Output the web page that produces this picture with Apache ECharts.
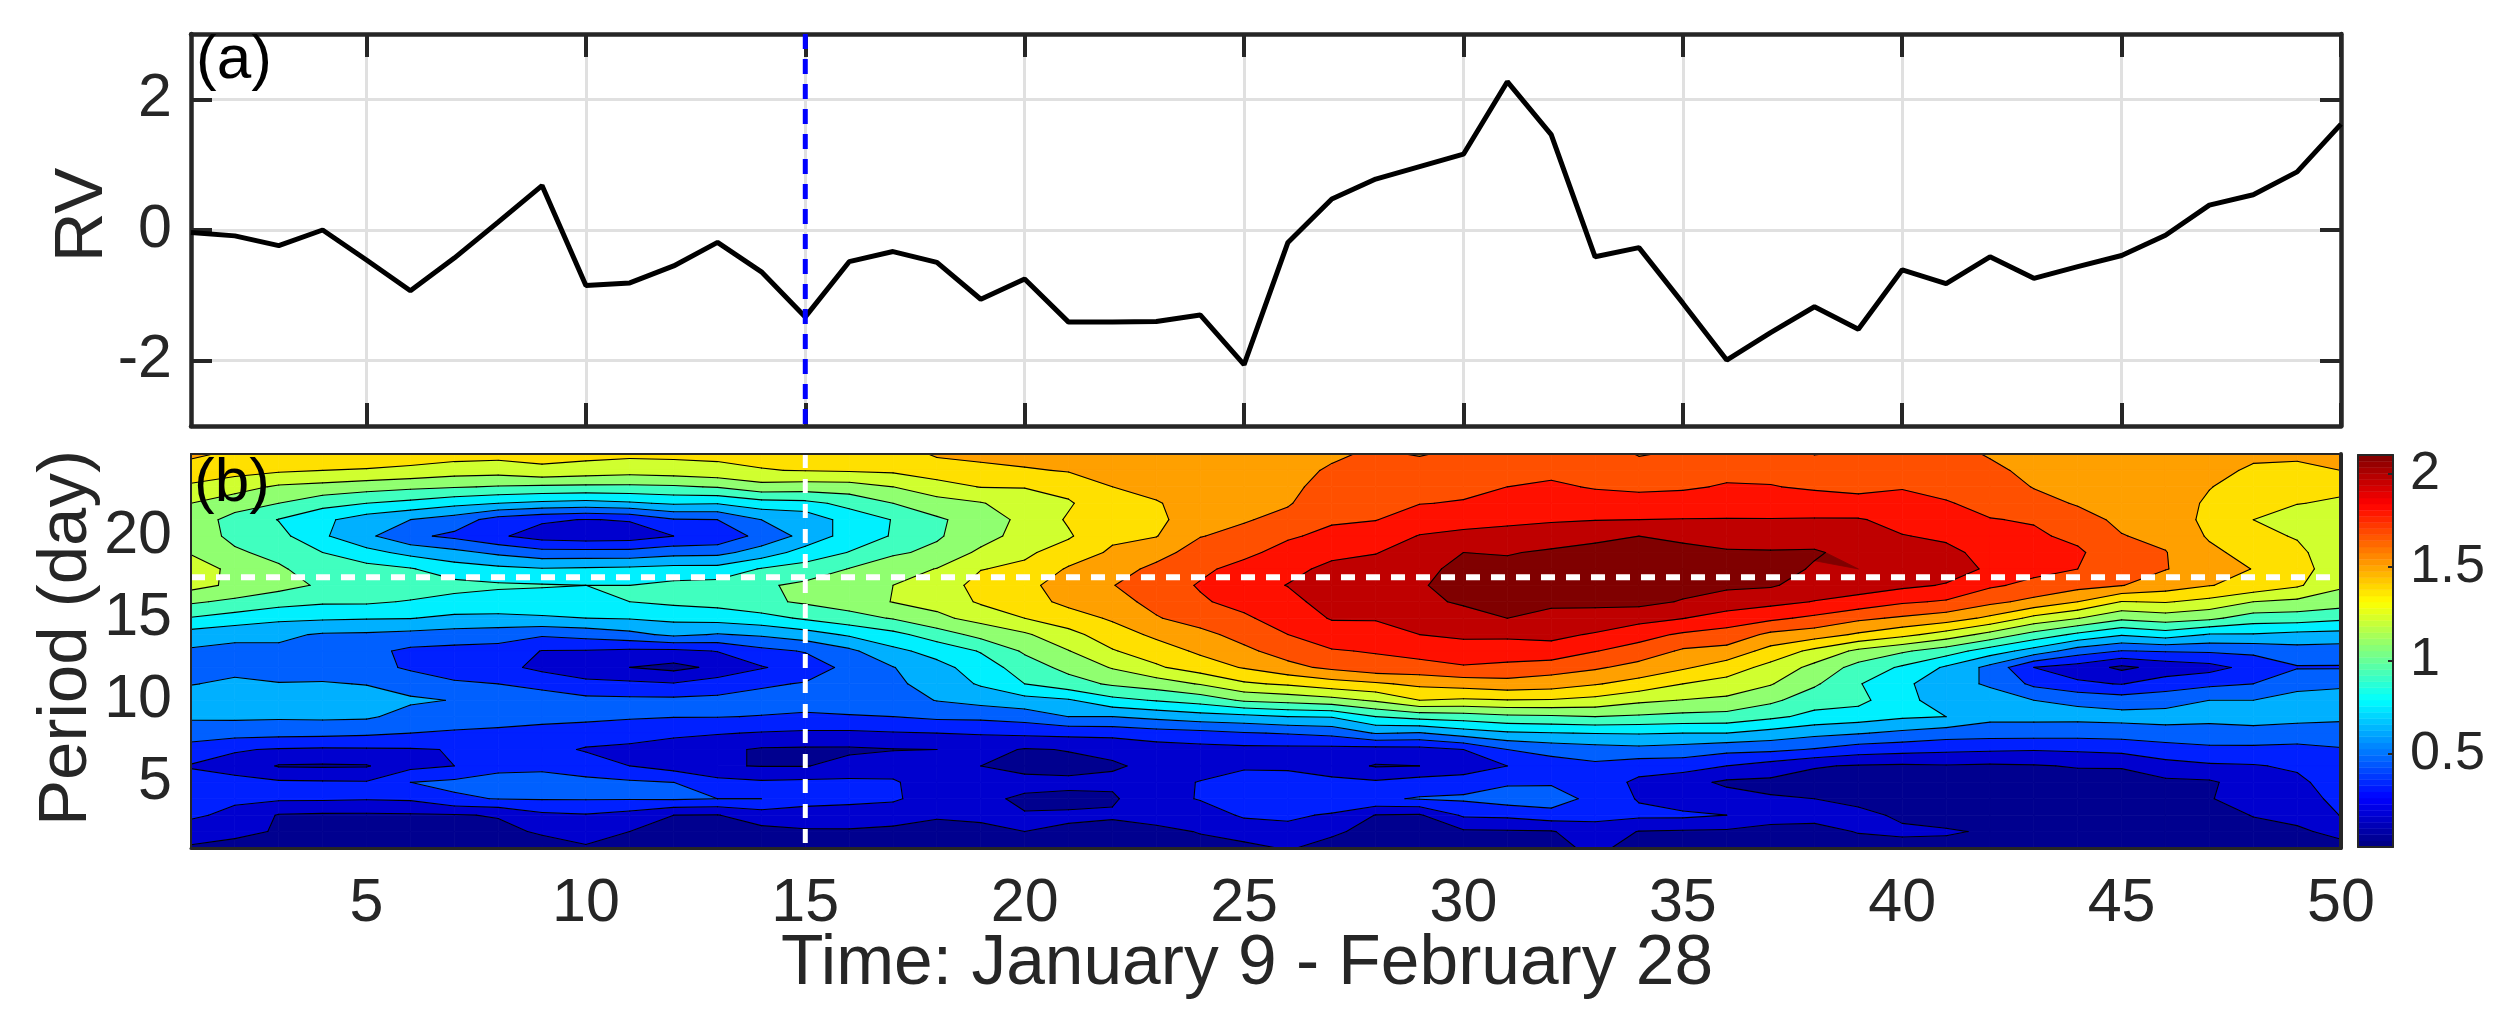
<!DOCTYPE html>
<html><head><meta charset="utf-8">
<style>html,body{margin:0;padding:0;background:#fff}#chart{width:2514px;height:1034px}</style>
<script src="https://cdn.jsdelivr.net/npm/echarts@6/dist/echarts.min.js"></script>
</head><body><div id="chart"></div>
<script>
const rvValues = [-0.04,-0.09,-0.24,0.0,-0.46,-0.93,-0.43,0.12,0.68,-0.85,-0.81,-0.55,-0.19,-0.64,-1.33,-0.485,-0.33,-0.495,-1.06,-0.75,-1.41,-1.41,-1.40,-1.30,-2.06,-0.19,0.475,0.78,0.97,1.16,2.27,1.46,-0.41,-0.27,-1.12,-1.99,-1.57,-1.175,-1.52,-0.61,-0.82,-0.41,-0.74,-0.56,-0.39,-0.08,0.38,0.54,0.89,1.62];
const days = rvValues.map((_, i) => i + 1);
const periods = [25,24,23,22,21,20,19,18,17,16,15,14,13,12,11,10,9,8,7,6,5,4,3,2,1];
const contourLevels = [0.14,0.28,0.42,0.56,0.70,0.84,0.98,1.12,1.26,1.40,1.54,1.68,1.82,1.96];
const bandColors = ['#00008F','#0000CF','#0020FF','#0060FF','#00B0FF','#00F0FF','#40FFBF','#90FF70','#D0FF2F','#FFE000','#FFA000','#FF5000','#FF1000','#BF0000','#800000'];
const dayTicks = [5,10,15,20,25,30,35,40,45,50];
const rvTicks = [-2,0,2];
const periodTicks = [5,10,15,20];
const colorbarTicks = [0.5,1,1.5,2];
const markedDay = 15;
const markedPeriod = 17.5;
// one row per day (1..50), each listing the period values 25 down to 1
const powerByDay = [
[1.43,1.33,1.24,1.12,1.06,1.06,1.11,1.18,1.17,1.00,.83,.64,.54,.50,.555,.62,.58,.49,.36,.27,.33,.34,.30,.22,.12],
[1.37,1.31,1.175,1.045,.93,.945,1.00,1.09,1.09,.95,.78,.60,.52,.53,.58,.63,.585,.475,.29,.24,.31,.30,.25,.17,.10],
[1.36,1.28,1.10,.98,.835,.885,.94,1.00,1.03,.895,.73,.59,.53,.51,.565,.63,.58,.465,.27,.13,.30,.30,.13,.13,.09],
[1.35,1.26,1.075,.89,.73,.72,.84,.905,.96,.86,.72,.545,.51,.50,.57,.635,.585,.46,.26,.125,.295,.30,.12,.09,.08],
[1.34,1.25,1.04,.84,.63,.59,.745,.89,.94,.86,.71,.54,.46,.47,.555,.62,.58,.445,.265,.13,.29,.29,.12,.08,.07],
[1.33,1.23,1.01,.80,.56,.45,.66,.85,.92,.83,.705,.52,.39,.40,.50,.58,.51,.42,.27,.24,.42,.30,.125,.08,.07],
[1.32,1.19,.99,.74,.495,.39,.60,.77,.88,.80,.67,.50,.375,.35,.44,.555,.505,.40,.285,.28,.45,.40,.13,.07,.06],
[1.31,1.18,.97,.70,.36,.30,.53,.735,.86,.78,.67,.48,.37,.33,.42,.50,.47,.395,.33,.39,.46,.425,.15,.10,.06],
[1.30,1.235,.955,.67,.30,.22,.47,.71,.85,.78,.685,.44,.275,.24,.39,.47,.455,.38,.335,.39,.475,.43,.25,.16,.07],
[1.30,1.205,.95,.65,.275,.20,.47,.72,.84,.79,.70,.47,.27,.17,.325,.455,.445,.37,.265,.36,.45,.43,.27,.195,.125],
[1.29,1.18,.95,.68,.29,.21,.47,.73,.84,.84,.71,.52,.25,.14,.31,.45,.43,.365,.235,.28,.44,.43,.23,.14,.08],
[1.29,1.20,.96,.72,.41,.28,.51,.75,.875,.87,.735,.59,.25,.10,.29,.45,.425,.31,.21,.22,.42,.435,.14,.10,.08],
[1.29,1.225,.99,.71,.42,.31,.52,.75,.89,.89,.755,.55,.285,.17,.35,.45,.425,.29,.17,.15,.33,.42,.135,.09,.07],
[1.29,1.255,1.07,.78,.56,.47,.62,.85,.96,.95,.79,.58,.38,.27,.40,.47,.415,.27,.125,.135,.30,.42,.21,.10,.07],
[1.29,1.265,1.055,.80,.60,.60,.76,.895,1.01,1.00,.86,.635,.43,.34,.43,.50,.39,.26,.12,.135,.31,.34,.21,.125,.08],
[1.30,1.275,1.06,.88,.76,.76,.845,.985,1.05,1.05,.925,.72,.53,.46,.475,.49,.41,.255,.12,.18,.31,.33,.19,.13,.08],
[1.32,1.285,1.12,.98,.845,.85,.96,1.06,1.12,1.125,.99,.80,.665,.555,.53,.50,.42,.27,.135,.20,.30,.30,.20,.11,.08],
[1.42,1.325,1.21,1.06,.96,.965,1.01,1.125,1.18,1.165,1.09,.91,.75,.655,.62,.565,.45,.28,.14,.15,.18,.21,.15,.11,.08],
[1.44,1.36,1.265,1.11,1.04,1.06,1.15,1.255,1.31,1.28,1.165,1.025,.85,.765,.715,.61,.455,.29,.19,.14,.18,.16,.165,.11,.08],
[1.46,1.385,1.265,1.20,1.16,1.18,1.235,1.29,1.36,1.335,1.26,1.10,1.00,.91,.84,.65,.48,.31,.13,.11,.17,.125,.145,.14,.10],
[1.47,1.41,1.305,1.245,1.275,1.245,1.325,1.415,1.47,1.44,1.33,1.22,1.115,1.02,.925,.685,.56,.32,.145,.11,.16,.12,.15,.13,.09],
[1.50,1.47,1.40,1.36,1.35,1.375,1.42,1.48,1.535,1.49,1.42,1.33,1.25,1.13,1.00,.80,.56,.33,.16,.13,.16,.125,.155,.10,.08],
[1.51,1.50,1.44,1.39,1.37,1.395,1.49,1.575,1.62,1.58,1.53,1.43,1.33,1.24,1.05,.85,.60,.36,.21,.16,.20,.22,.18,.115,.09],
[1.53,1.53,1.50,1.46,1.475,1.535,1.60,1.655,1.69,1.665,1.60,1.50,1.425,1.33,1.13,.90,.64,.38,.23,.19,.29,.29,.20,.145,.11],
[1.51,1.51,1.525,1.52,1.53,1.575,1.65,1.72,1.755,1.72,1.66,1.59,1.51,1.41,1.24,1.00,.66,.41,.24,.27,.31,.32,.30,.19,.11],
[1.50,1.50,1.51,1.53,1.575,1.665,1.725,1.78,1.825,1.77,1.74,1.68,1.60,1.50,1.28,1.03,.70,.43,.24,.26,.33,.34,.31,.23,.15],
[1.52,1.555,1.59,1.62,1.665,1.71,1.785,1.855,1.91,1.89,1.83,1.755,1.67,1.57,1.34,1.07,.71,.46,.235,.20,.32,.42,.26,.16,.10],
[1.56,1.58,1.61,1.64,1.675,1.76,1.815,1.865,1.90,1.885,1.83,1.765,1.69,1.63,1.38,1.14,.84,.57,.225,.13,.30,.40,.135,.10,.08],
[1.53,1.60,1.63,1.675,1.76,1.825,1.875,1.92,1.945,1.925,1.875,1.82,1.73,1.63,1.43,1.26,.89,.55,.23,.14,.345,.43,.125,.10,.08],
[1.57,1.60,1.645,1.69,1.775,1.85,1.96,2.0,2.02,1.98,1.90,1.84,1.77,1.665,1.46,1.24,.91,.63,.28,.19,.36,.44,.30,.12,.09],
[1.60,1.62,1.68,1.735,1.795,1.86,1.95,2.0,2.04,2.01,1.96,1.84,1.765,1.64,1.49,1.255,.95,.68,.42,.28,.40,.49,.31,.125,.10],
[1.62,1.65,1.70,1.755,1.805,1.89,1.98,2.02,2.03,1.98,1.93,1.845,1.78,1.60,1.47,1.25,.96,.695,.47,.35,.40,.50,.36,.13,.10],
[1.62,1.65,1.67,1.74,1.815,1.93,2.0,2.02,2.04,2.00,1.89,1.81,1.685,1.56,1.41,1.22,.98,.705,.50,.39,.36,.37,.32,.22,.17],
[1.53,1.60,1.66,1.72,1.82,1.96,2.02,2.07,2.08,2.0,1.87,1.73,1.625,1.49,1.35,1.15,.96,.71,.52,.34,.25,.27,.31,.135,.09],
[1.56,1.62,1.665,1.735,1.825,1.93,2.0,2.04,2.01,1.95,1.825,1.66,1.52,1.42,1.26,1.115,.94,.70,.50,.34,.19,.19,.31,.125,.10],
[1.61,1.65,1.69,1.76,1.825,1.92,1.97,2.0,1.98,1.91,1.75,1.63,1.49,1.33,1.21,1.09,.93,.70,.46,.28,.115,.20,.28,.12,.09],
[1.63,1.65,1.685,1.755,1.825,1.90,1.97,2.0,1.975,1.86,1.71,1.51,1.35,1.215,1.13,1.01,.87,.65,.45,.22,.11,.15,.18,.11,.08],
[1.535,1.63,1.665,1.735,1.83,1.92,1.97,1.95,1.90,1.815,1.65,1.465,1.225,1.08,1.00,.90,.80,.60,.41,.15,.09,.14,.17,.11,.08],
[1.56,1.62,1.65,1.72,1.83,1.88,1.93,1.96,1.885,1.77,1.57,1.38,1.09,.93,.85,.88,.77,.57,.35,.13,.08,.115,.165,.145,.10],
[1.54,1.60,1.67,1.73,1.78,1.825,1.895,1.92,1.85,1.70,1.52,1.30,1.00,.82,.73,.74,.72,.53,.33,.12,.08,.09,.125,.155,.11],
[1.58,1.60,1.64,1.69,1.75,1.80,1.85,1.88,1.81,1.665,1.47,1.20,.91,.68,.62,.64,.70,.49,.31,.13,.07,.08,.10,.15,.11],
[1.53,1.565,1.60,1.64,1.685,1.74,1.78,1.80,1.70,1.575,1.37,1.075,.77,.52,.54,.63,.60,.48,.30,.12,.07,.07,.08,.13,.09],
[1.50,1.51,1.535,1.58,1.67,1.70,1.72,1.72,1.645,1.50,1.22,.93,.645,.28,.39,.56,.60,.48,.29,.13,.07,.06,.07,.07,.07],
[1.47,1.48,1.50,1.53,1.585,1.65,1.70,1.68,1.59,1.40,1.125,.81,.49,.22,.30,.535,.60,.475,.30,.15,.08,.07,.07,.07,.07],
[1.46,1.46,1.47,1.49,1.515,1.545,1.59,1.60,1.545,1.255,1.01,.715,.415,.11,.275,.49,.61,.48,.32,.15,.09,.07,.06,.06,.06],
[1.46,1.45,1.45,1.47,1.49,1.51,1.545,1.545,1.47,1.27,1.05,.77,.43,.19,.35,.50,.62,.50,.36,.23,.11,.08,.065,.06,.06],
[1.44,1.43,1.405,1.38,1.36,1.385,1.43,1.48,1.405,1.22,1.01,.69,.44,.23,.39,.56,.60,.505,.39,.26,.12,.135,.085,.07,.06],
[1.42,1.385,1.345,1.30,1.26,1.295,1.35,1.395,1.36,1.12,.915,.69,.45,.33,.42,.56,.62,.51,.39,.27,.21,.18,.145,.10,.07],
[1.42,1.375,1.32,1.265,1.19,1.25,1.29,1.325,1.28,1.09,.91,.66,.50,.41,.525,.60,.60,.50,.38,.30,.25,.22,.175,.12,.09],
[1.43,1.40,1.29,1.24,1.18,1.18,1.17,1.16,1.14,1.05,.87,.65,.49,.41,.54,.61,.59,.49,.41,.38,.35,.32,.285,.175,.10]
];
const colorbarMax = 2.1, colorbarSteps = 64;

function jet(t){
  const f = (a) => Math.max(0, Math.min(1, 1.5 - Math.abs(4 * t - a)));
  const h = (v) => Math.round(v * 255).toString(16).padStart(2, '0');
  return '#' + h(f(3)) + h(f(2)) + h(f(1));
}
function lerpPt(a, b, level){
  const s = (level - a[2]) / (b[2] - a[2]);
  return [a[0] + s * (b[0] - a[0]), a[1] + s * (b[1] - a[1]), level];
}
function clipPoly(poly, level, keepAbove){
  const out = [];
  const inside = (p) => keepAbove ? p[2] >= level : p[2] <= level;
  for (let i = 0; i < poly.length; i++){
    const a = poly[i], b = poly[(i + 1) % poly.length];
    if (inside(a)) out.push(a);
    if (inside(a) !== inside(b)) out.push(lerpPt(a, b, level));
  }
  return out;
}
const bandPolys = [], contourSegs = [];
for (let d = 0; d < days.length - 1; d++){
  for (let r = 0; r < periods.length - 1; r++){
    const cell = [
      [days[d], periods[r], powerByDay[d][r]],
      [days[d + 1], periods[r], powerByDay[d + 1][r]],
      [days[d + 1], periods[r + 1], powerByDay[d + 1][r + 1]],
      [days[d], periods[r + 1], powerByDay[d][r + 1]]
    ];
    bandColors.forEach((c, b) => {
      let poly = cell;
      if (b > 0) poly = clipPoly(poly, contourLevels[b - 1], true);
      if (poly.length && b < contourLevels.length) poly = clipPoly(poly, contourLevels[b], false);
      if (poly.length >= 3) bandPolys.push({band: b, pts: poly});
    });
    contourLevels.forEach((lv) => {
      const hits = [];
      for (let i = 0; i < 4; i++){
        const a = cell[i], b = cell[(i + 1) % 4];
        if ((a[2] >= lv) !== (b[2] >= lv)) hits.push(lerpPt(a, b, lv));
      }
      if (hits.length === 2) contourSegs.push([hits[0], hits[1]]);
      else if (hits.length === 4){
        const mean = (cell[0][2] + cell[1][2] + cell[2][2] + cell[3][2]) / 4;
        const a0high = cell[0][2] >= lv;
        if ((mean >= lv) === a0high){ contourSegs.push([hits[0], hits[1]]); contourSegs.push([hits[2], hits[3]]); }
        else { contourSegs.push([hits[3], hits[0]]); contourSegs.push([hits[1], hits[2]]); }
      }
    });
  }
}
bandPolys.sort((a, b) => a.band - b.band);
const ink = '#262626';
const textBase = {color: ink, fontFamily: '"Liberation Sans"', fontSize: 61};
function hiddenAxis(extra){ return Object.assign({type: 'value', axisLabel: {show: false}, axisTick: {show: false}, splitLine: {show: false}}, extra); }
const dayRange = {min: 1, max: 50};
const tick = (len, width) => ({show: true, inside: true, length: len, lineStyle: {color: ink, width: width}});

const option = {
  backgroundColor: '#fff',
  animation: false,
  grid: [
    {left: 191, top: 34, width: 2150, height: 392},
    {left: 191, top: 454, width: 2150, height: 394},
    {left: 2358, top: 455, width: 35, height: 392}
  ],
  xAxis: [
    Object.assign({type: 'value', gridIndex: 0, position: 'bottom', axisLine: {onZero: false, lineStyle: {color: ink, width: 4.5}},
      axisTick: Object.assign(tick(23, 4), {customValues: dayTicks}), axisLabel: {show: false, customValues: dayTicks},
      splitLine: {show: true, lineStyle: {color: '#E0E0E0', width: 3}}}, dayRange),
    Object.assign({type: 'value', gridIndex: 0, position: 'top', axisLine: {onZero: false, lineStyle: {color: ink, width: 4.5}},
      axisTick: Object.assign(tick(23, 4), {customValues: dayTicks}), axisLabel: {show: false, customValues: dayTicks}, splitLine: {show: false}}, dayRange),
    Object.assign({type: 'value', gridIndex: 1, position: 'bottom', z: 5, axisLine: {onZero: false, lineStyle: {color: ink, width: 3}},
      axisTick: {show: false, customValues: dayTicks}, axisLabel: Object.assign({margin: 26, customValues: dayTicks}, textBase), splitLine: {show: false},
      name: 'Time: January 9 - February 28', nameLocation: 'middle', nameGap: 82, nameMoveOverlap: false,
      nameTextStyle: {color: ink, fontFamily: '"Liberation Sans"', fontSize: 69.5, padding: [0, 38, 0, 0]}}, dayRange),
    Object.assign(hiddenAxis({gridIndex: 1, position: 'top', z: 5, axisLine: {onZero: false, lineStyle: {color: ink, width: 2}}}), dayRange),
    hiddenAxis({gridIndex: 2, position: 'bottom', min: 0, max: 1, z: 5, axisLine: {onZero: false, lineStyle: {color: ink, width: 2}}}),
    hiddenAxis({gridIndex: 2, position: 'top', min: 0, max: 1, z: 5, axisLine: {onZero: false, lineStyle: {color: ink, width: 2}}})
  ],
  yAxis: [
    {type: 'value', gridIndex: 0, position: 'left', min: -3, max: 3, axisLine: {onZero: false, lineStyle: {color: ink, width: 4.5}},
      axisTick: Object.assign(tick(21, 4), {customValues: rvTicks}), axisLabel: Object.assign({margin: 19, customValues: rvTicks}, textBase),
      splitLine: {show: true, lineStyle: {color: '#E0E0E0', width: 3}},
      name: 'RV', nameLocation: 'middle', nameGap: 74, nameRotate: 90, nameMoveOverlap: false,
      nameTextStyle: {color: ink, fontFamily: '"Liberation Sans"', fontSize: 69, padding: [0, 0, 0, 30]}},
    {type: 'value', gridIndex: 0, position: 'right', min: -3, max: 3, axisLine: {onZero: false, lineStyle: {color: ink, width: 4.5}},
      axisTick: Object.assign(tick(21, 4), {customValues: rvTicks}), axisLabel: {show: false, customValues: rvTicks}, splitLine: {show: false}},
    {type: 'value', gridIndex: 1, position: 'left', min: 1, max: 25, z: 5, axisLine: {onZero: false, lineStyle: {color: ink, width: 2}},
      axisTick: {show: false, customValues: periodTicks}, axisLabel: Object.assign({margin: 19, customValues: periodTicks}, textBase), splitLine: {show: false},
      name: 'Period (day)', nameLocation: 'middle', nameGap: 90, nameRotate: 90, nameMoveOverlap: false,
      nameTextStyle: {color: ink, fontFamily: '"Liberation Sans"', fontSize: 69, padding: [0, 0, 0, 26]}},
    hiddenAxis({gridIndex: 1, position: 'right', min: 1, max: 25, z: 5, axisLine: {onZero: false, lineStyle: {color: ink, width: 4}}}),
    {type: 'value', gridIndex: 2, position: 'right', min: 0, max: colorbarMax, z: 5, axisLine: {onZero: false, lineStyle: {color: ink, width: 2}},
      axisTick: Object.assign(tick(5, 2), {customValues: colorbarTicks}),
      axisLabel: Object.assign({margin: 17, customValues: colorbarTicks}, textBase, {fontSize: 54}), splitLine: {show: false}},
    hiddenAxis({gridIndex: 2, position: 'left', min: 0, max: colorbarMax, z: 5, axisLine: {onZero: false, lineStyle: {color: ink, width: 2}}})
  ],
  series: [
    {type: 'line', xAxisIndex: 0, yAxisIndex: 0, z: 3, showSymbol: false, symbol: 'none', lineStyle: {color: '#000', width: 5},
      data: days.map((d, i) => [d, rvValues[i]])},
    {type: 'line', xAxisIndex: 0, yAxisIndex: 0, z: 4, symbol: 'none', clip: false, lineStyle: {color: '#0000FF', width: 5, type: [15, 10]},
      data: [[markedDay, 3], [markedDay, -3]]},
    {type: 'custom', xAxisIndex: 2, yAxisIndex: 2, z: 2, progressive: 0, silent: true,
      data: bandPolys.map((p) => [p.pts[0][0], p.pts[0][1]]),
      encode: {x: 0, y: 1},
      renderItem: (params, api) => {
        const p = bandPolys[params.dataIndex];
        const color = bandColors[p.band];
        return {type: 'polygon', shape: {points: p.pts.map((q) => api.coord([q[0], q[1]]))},
          style: {fill: color, stroke: color, lineWidth: 0.8}};
      }},
    {type: 'custom', xAxisIndex: 2, yAxisIndex: 2, z: 3, progressive: 0, silent: true,
      data: contourSegs.map((s) => [s[0][0], s[0][1]]),
      encode: {x: 0, y: 1},
      renderItem: (params, api) => {
        const s = contourSegs[params.dataIndex];
        const a = api.coord([s[0][0], s[0][1]]), b = api.coord([s[1][0], s[1][1]]);
        return {type: 'line', shape: {x1: a[0], y1: a[1], x2: b[0], y2: b[1]},
          style: {stroke: '#000', lineWidth: 1.1, lineCap: 'round'}};
      }},
    {type: 'line', xAxisIndex: 2, yAxisIndex: 2, z: 4, symbol: 'none', lineStyle: {color: '#fff', width: 5, type: [14, 11]},
      data: [[markedDay, 25], [markedDay, 1]]},
    {type: 'line', xAxisIndex: 2, yAxisIndex: 2, z: 4, symbol: 'none', lineStyle: {color: '#fff', width: 6, type: [14, 11]},
      data: [[1, markedPeriod], [50, markedPeriod]]},
    {type: 'custom', xAxisIndex: 4, yAxisIndex: 4, z: 2, progressive: 0, silent: true,
      data: Array.from({length: colorbarSteps}, (_, i) => [0, i * colorbarMax / colorbarSteps, (i + 1) * colorbarMax / colorbarSteps, i]),
      encode: {y: [1, 2]},
      renderItem: (params, api) => {
        const a = api.coord([0, api.value(1)]), b = api.coord([1, api.value(2)]);
        const c = jet((api.value(3) + 0.5) / colorbarSteps);
        return {type: 'rect', shape: {x: a[0], y: b[1], width: b[0] - a[0], height: a[1] - b[1]},
          style: {fill: c, stroke: c, lineWidth: 0.5}};
      }}
  ],
  graphic: [
    {type: 'text', left: 196, top: 30, z: 20, style: {text: '(a)', fill: '#000', font: '62px "Liberation Sans"'}},
    {type: 'text', left: 194, top: 453, z: 20, style: {text: '(b)', fill: '#000', font: '62px "Liberation Sans"'}}
  ]
};
echarts.init(document.getElementById('chart'), null, {renderer: 'canvas'}).setOption(option);
</script>
</body></html>
